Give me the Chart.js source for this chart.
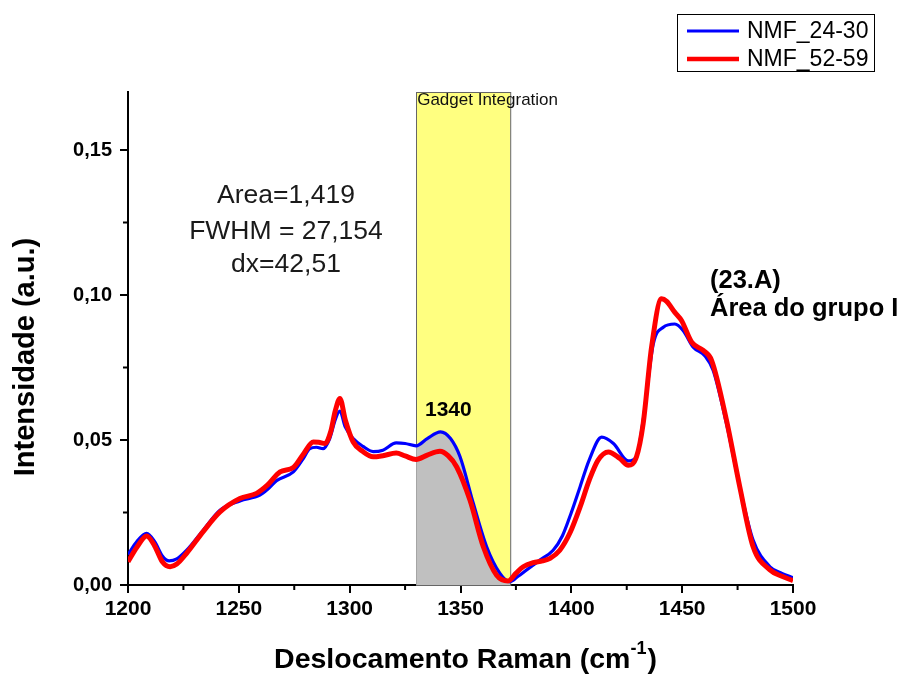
<!DOCTYPE html>
<html>
<head>
<meta charset="utf-8">
<title>Raman NMF</title>
<script src="https://cdn.jsdelivr.net/npm/chart.js@4.4.1/dist/chart.umd.min.js"></script>
<style>
  html, body { margin: 0; padding: 0; background: #fff; }
  #wrap { width: 910px; height: 677px; }
</style>
</head>
<body>
<div id="wrap"><canvas id="ramanChart" width="910" height="677"></canvas></div>
<script>
/* data
---------------------------- */
var blueName = 'NMF_24-30';
var blueX = [1200, 1204, 1208.4, 1212, 1215.5, 1218.6, 1222, 1226.5, 1234, 1241.5,
  1250.5, 1259.5, 1263, 1267, 1274.6, 1279, 1282, 1285, 1288, 1291,
  1293.5, 1295.6, 1298, 1301.6, 1306, 1310.6, 1315, 1321, 1325, 1330,
  1335, 1341, 1345.5, 1349.8, 1355.8, 1361.8, 1367.8, 1372.3, 1376, 1379.8,
  1385.8, 1391.8, 1396, 1400, 1404, 1408, 1413.7, 1419, 1425.7, 1429.4,
  1432.4, 1437, 1441.5, 1446.7, 1450.5, 1455, 1460.3, 1464, 1470, 1476,
  1482, 1489.6, 1495, 1500];
var blueY = [0.0105, 0.0150, 0.0178, 0.0150, 0.0100, 0.0083, 0.0090, 0.0120, 0.0190, 0.0258,
  0.0290, 0.0310, 0.0330, 0.0360, 0.0390, 0.0435, 0.0470, 0.0475, 0.0470, 0.0505,
  0.0570, 0.0600, 0.0545, 0.0505, 0.0478, 0.0460, 0.0465, 0.0490, 0.0488, 0.0480,
  0.0505, 0.0528, 0.0505, 0.0442, 0.0281, 0.0132, 0.0040, 0.0011, 0.0030, 0.0052,
  0.0086, 0.0120, 0.0170, 0.0250, 0.0340, 0.0430, 0.0510, 0.0488, 0.0428, 0.0442,
  0.0568, 0.0832, 0.0889, 0.0900, 0.0877, 0.0820, 0.0790, 0.0740, 0.0556, 0.0338,
  0.0155, 0.0063, 0.0040, 0.0025];

var redName = 'NMF_52-59';
var redX = [1200, 1204, 1208.4, 1212, 1215.5, 1219, 1222, 1226.5, 1234, 1241.5,
  1250.5, 1258, 1263, 1268.6, 1274.6, 1279, 1283.6, 1286, 1288.9, 1291.5,
  1293.5, 1295.6, 1298, 1301.6, 1306, 1310.6, 1315, 1321, 1325, 1330,
  1335, 1340.7, 1344.5, 1348.3, 1354.3, 1360.3, 1366.3, 1371.5, 1375, 1378.3,
  1382.8, 1387, 1390.4, 1394.8, 1399.4, 1404, 1408, 1412, 1416.7, 1421.9,
  1425.7, 1429.4, 1432.4, 1436.2, 1440.7, 1443, 1446.7, 1449.7, 1454.3, 1459.5,
  1463.3, 1470, 1476, 1482, 1489.6, 1495, 1500];
var redY = [0.0080, 0.0130, 0.0169, 0.0135, 0.0080, 0.0063, 0.0072, 0.0110, 0.0185, 0.0252,
  0.0298, 0.0316, 0.0345, 0.0390, 0.0405, 0.0450, 0.0493, 0.0492, 0.0488, 0.0530,
  0.0600, 0.0643, 0.0570, 0.0493, 0.0460, 0.0442, 0.0446, 0.0455, 0.0445, 0.0433,
  0.0448, 0.0461, 0.0445, 0.0407, 0.0292, 0.0132, 0.0034, 0.0014, 0.0040, 0.0063,
  0.0077, 0.0083, 0.0092, 0.0120, 0.0180, 0.0270, 0.0360, 0.0430, 0.0459, 0.0436,
  0.0413, 0.0442, 0.0556, 0.0820, 0.0987, 0.0978, 0.0940, 0.0912, 0.0837, 0.0809,
  0.0774, 0.0568, 0.0338, 0.0132, 0.0052, 0.0030, 0.0015];

// axis ticks
var xTicks = [1200, 1250, 1300, 1350, 1400, 1450, 1500];
var xMinorTicks = [1225, 1275, 1325, 1375, 1425, 1475];
var yTicks = [0, 0.05, 0.10, 0.15];
var yTickLabels = ['0,00', '0,05', '0,10', '0,15'];
var yMinorTicks = [0.025, 0.075, 0.125];

// integration window (gadget)
var gadgetFrom = 1330;
var gadgetTo = 1372.5;
var gadgetLabel = 'Gadget Integration';
var peakLabel = '1340';
var statLines = ['Area=1,419', 'FWHM = 27,154', 'dx=42,51'];
var panelLines = ['(23.A)', 'Área do grupo I'];

var FONT = '"Liberation Sans", Arial, Helvetica, sans-serif';

function toPoints(xs, ys) {
  return xs.map(function (x, i) { return { x: x, y: ys[i] }; });
}

var bluePoints = toPoints(blueX, blueY);
var redPoints = toPoints(redX, redY);
var areaPoints = bluePoints.filter(function (p) { return p.x >= gadgetFrom && p.x <= gadgetTo; });


/* extra drawing: gadget box, notes, minor ticks, legend, titles
---------------------------- */
var extras = {
  id: 'extras',
  beforeDatasetsDraw: function (chart) {
    var c = chart.ctx, a = chart.chartArea, xs = chart.scales.x;
    var x1 = xs.getPixelForValue(gadgetFrom), x2 = xs.getPixelForValue(gadgetTo);
    c.save();
    c.fillStyle = '#ffff80';
    c.fillRect(x1, a.top, x2 - x1, a.bottom - a.top);
    c.strokeStyle = '#666';
    c.lineWidth = 1;
    c.strokeRect(Math.round(x1) + 0.5, a.top + 0.5, x2 - x1, a.bottom - a.top);
    c.restore();
  },
  afterDraw: function (chart) {
    var c = chart.ctx, a = chart.chartArea, xs = chart.scales.x, ys = chart.scales.y;
    c.save();

    // minor ticks
    c.strokeStyle = '#000';
    c.lineWidth = 2;
    c.beginPath();
    xMinorTicks.forEach(function (v) {
      var px = xs.getPixelForValue(v);
      c.moveTo(px, a.bottom); c.lineTo(px, a.bottom + 5);
    });
    yMinorTicks.forEach(function (v) {
      var py = ys.getPixelForValue(v);
      c.moveTo(a.left, py); c.lineTo(a.left - 5, py);
    });
    c.stroke();

    // gadget label
    c.fillStyle = '#111';
    c.textAlign = 'left';
    c.textBaseline = 'alphabetic';
    c.font = '17px ' + FONT;
    c.fillText(gadgetLabel, xs.getPixelForValue(gadgetFrom) + 1, 105);

    // stats
    c.textAlign = 'center';
    c.font = '26.5px ' + FONT;
    c.fillStyle = '#1a1a1a';
    c.fillText(statLines[0], 286, 203);
    c.fillText(statLines[1], 286, 239);
    c.fillText(statLines[2], 286, 272);

    // peak and panel labels
    c.textAlign = 'left';
    c.fillStyle = '#000';
    c.font = 'bold 21px ' + FONT;
    c.fillText(peakLabel, 425, 416);
    c.font = 'bold 25.5px ' + FONT;
    c.fillText(panelLines[0], 710, 288);
    c.fillText(panelLines[1], 710, 316);

    // legend
    c.strokeStyle = '#000';
    c.lineWidth = 1;
    c.strokeRect(677.5, 14.5, 197, 57);
    c.lineWidth = 3;
    c.strokeStyle = '#0000ff';
    c.beginPath(); c.moveTo(687, 31); c.lineTo(739, 31); c.stroke();
    c.lineWidth = 4.5;
    c.strokeStyle = '#ff0000';
    c.beginPath(); c.moveTo(687, 59); c.lineTo(739, 59); c.stroke();
    c.font = '23px ' + FONT;
    c.fillStyle = '#000';
    c.fillText(blueName, 747, 38);
    c.fillText(redName, 747, 66);

    // y title
    c.font = 'bold 29px ' + FONT;
    c.save();
    c.translate(34, 357);
    c.rotate(-Math.PI / 2);
    c.textAlign = 'center';
    c.fillText('Intensidade (a.u.)', 0, 0);
    c.restore();

    // x title with superscript
    var main = 'Deslocamento Raman (cm', sup = '-1', close = ')';
    c.font = 'bold 28.5px ' + FONT;
    var w1 = c.measureText(main).width, w3 = c.measureText(close).width;
    c.font = 'bold 18px ' + FONT;
    var w2 = c.measureText(sup).width;
    var x0 = 465 - (w1 + w2 + w3) / 2;
    c.textAlign = 'left';
    c.font = 'bold 28.5px ' + FONT;
    c.fillText(main, x0, 668);
    c.font = 'bold 18px ' + FONT;
    c.fillText(sup, x0 + w1, 654);
    c.font = 'bold 28.5px ' + FONT;
    c.fillText(close, x0 + w1 + w2 + 1, 668);

    c.restore();
  }
};


/* chart
---------------------------- */
var ctx = document.getElementById('ramanChart');
var ramanChart = new Chart(ctx, {
  type: 'line',
  data: {
    datasets: [{
      label: redName,
      data: redPoints,
      borderColor: '#ff0000',
      borderWidth: 5,
      pointRadius: 0,
      cubicInterpolationMode: 'monotone',
      fill: false,
      order: 0
    }, {
      label: blueName,
      data: bluePoints,
      borderColor: '#0000ff',
      borderWidth: 3.2,
      pointRadius: 0,
      cubicInterpolationMode: 'monotone',
      fill: false,
      order: 1
    }, {
      label: 'area',
      data: areaPoints,
      borderWidth: 0,
      borderColor: 'rgba(0,0,0,0)',
      backgroundColor: '#c0c0c0',
      pointRadius: 0,
      cubicInterpolationMode: 'monotone',
      fill: 'origin',
      order: 2
    }]
  },
  options: {
    responsive: false,
    animation: false,
    events: [],
    layout: { padding: { top: 92, right: 117, left: 0, bottom: 0 } },
    plugins: {
      legend: { display: false },
      tooltip: { enabled: false },
      title: { display: false }
    },
    scales: {
      x: {
        type: 'linear',
        min: 1200,
        max: 1500,
        afterBuildTicks: function (s) { s.ticks = xTicks.map(function (v) { return { value: v }; }); },
        afterFit: function (s) { s.height = 92; },
        ticks: {
          color: '#000',
          padding: 4,
          maxRotation: 0,
          font: { family: FONT, size: 21, weight: 'bold' },
          callback: function (v) { return String(v); }
        },
        grid: { drawOnChartArea: false, drawTicks: true, tickLength: 8, color: '#000', lineWidth: 2 },
        border: { display: true, color: '#000', width: 2 }
      },
      y: {
        type: 'linear',
        min: 0,
        max: 0.17,
        afterBuildTicks: function (s) { s.ticks = yTicks.map(function (v) { return { value: v }; }); },
        afterFit: function (s) { s.width = 128; },
        ticks: {
          color: '#000',
          padding: 8,
          font: { family: FONT, size: 20, weight: 'bold' },
          callback: function (v, i) { return yTickLabels[i]; }
        },
        grid: { drawOnChartArea: false, drawTicks: true, tickLength: 8, color: '#000', lineWidth: 2 },
        border: { display: true, color: '#000', width: 2 }
      }
    }
  },
  plugins: [extras]
});
</script>
</body>
</html>
